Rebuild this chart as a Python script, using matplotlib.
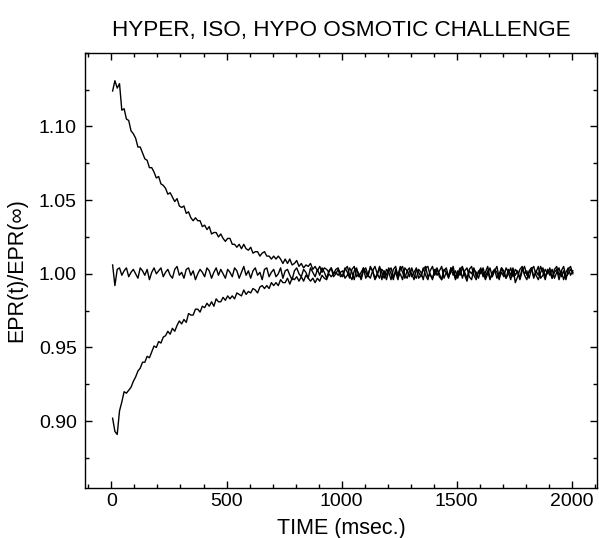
import numpy as np
import matplotlib
matplotlib.use("Agg")
import matplotlib.pyplot as plt
from matplotlib.ticker import MultipleLocator, FormatStrFormatter

# sampling grid (msec)
time_ms = np.arange(5, 2006, 10)

hyper = [
    1.124, 1.131, 1.126, 1.129, 1.111, 1.112, 1.105, 1.104, 1.097, 1.095,
    1.092, 1.086, 1.086, 1.082, 1.078, 1.077, 1.072, 1.072, 1.069, 1.065,
    1.066, 1.061, 1.060, 1.058, 1.054, 1.055, 1.052, 1.049, 1.051, 1.046,
    1.045, 1.046, 1.041, 1.042, 1.038, 1.036, 1.038, 1.036, 1.036, 1.032,
    1.033, 1.030, 1.032, 1.027, 1.028, 1.028, 1.025, 1.027, 1.024, 1.022,
    1.024, 1.024, 1.020, 1.020, 1.018, 1.020, 1.017, 1.020, 1.017, 1.016,
    1.018, 1.014, 1.015, 1.015, 1.012, 1.014, 1.015, 1.012, 1.012, 1.010,
    1.012, 1.010, 1.012, 1.010, 1.007, 1.010, 1.007, 1.010, 1.006, 1.007,
    1.009, 1.005, 1.007, 1.004, 1.006, 1.005, 1.007, 1.003, 1.005, 1.002,
    1.005, 1.001, 1.004, 1.003, 1.001, 1.004, 1.000, 1.003, 1.004, 1.000,
    0.998, 1.003, 1.005, 0.999, 0.996, 1.002, 1.004, 0.998, 1.001, 1.004,
    0.997, 1.000, 1.004, 1.002, 0.996, 0.999, 1.005, 1.001, 0.997, 1.003,
    1.001, 0.996, 1.003, 1.005, 0.998, 1.000, 0.996, 1.004, 1.002, 0.998,
    1.004, 0.999, 0.997, 1.003, 1.001, 0.996, 1.004, 1.005, 0.999, 0.997,
    1.002, 1.004, 0.998, 0.996, 1.003, 1.001, 0.997, 1.004, 0.999, 1.002,
    0.997, 1.003, 1.005, 0.999, 0.995, 1.002, 1.000, 1.004, 0.998, 1.001,
    1.004, 0.998, 1.001, 1.005, 0.997, 0.999, 1.003, 1.001, 0.996, 1.004,
    1.000, 0.997, 1.003, 0.999, 1.004, 0.994, 0.998, 1.003, 1.005, 0.999,
    0.996, 1.002, 1.004, 0.998, 1.001, 1.005, 0.997, 0.999, 1.003, 1.000,
    1.004, 0.997, 1.001, 1.003, 0.996, 1.002, 1.005, 0.998, 1.000, 1.003,
    1.001,
]

iso = [
    1.006, 0.992, 1.003, 1.004, 0.999, 1.002, 1.004, 0.998, 1.001, 1.003,
    1.000, 0.997, 1.004, 1.002, 0.999, 1.003, 0.996, 1.001, 1.004, 1.000,
    1.002, 1.004, 0.998, 1.001, 1.003, 0.999, 0.997, 1.003, 1.005, 0.999,
    1.001, 0.997, 1.003, 1.004, 0.999, 1.002, 0.996, 1.000, 1.003, 1.001,
    0.998, 1.004, 1.002, 0.997, 1.001, 1.004, 0.999, 1.003, 1.000, 0.997,
    1.003, 1.001, 0.998, 1.004, 1.002, 0.997, 1.001, 1.005, 0.999, 1.002,
    0.997, 1.002, 1.004, 0.999, 1.001, 0.996, 1.003, 1.004, 0.998, 1.001,
    1.003, 0.998, 1.000, 1.004, 0.997, 1.002, 1.003, 0.999, 0.996, 1.002,
    1.004, 1.000, 0.998, 1.003, 1.001, 0.997, 1.004, 1.001, 0.998, 1.003,
    0.999, 1.004, 1.001, 0.997, 1.002, 1.004, 0.998, 1.000, 1.003, 0.998,
    0.999, 1.004, 1.001, 0.997, 1.003, 1.005, 0.998, 1.000, 0.996, 1.002,
    1.004, 0.999, 0.997, 1.002, 1.005, 1.000, 0.997, 1.003, 1.001, 0.996,
    1.002, 1.004, 0.998, 1.001, 0.996, 1.003, 1.005, 0.999, 0.997, 1.002,
    1.000, 0.996, 1.003, 1.001, 0.998, 1.004, 0.999, 0.996, 1.002, 1.005,
    0.999, 1.003, 1.000, 0.996, 1.002, 1.004, 0.998, 1.001, 1.005, 0.997,
    1.002, 0.999, 1.004, 1.001, 0.997, 1.003, 1.005, 0.999, 0.996, 1.002,
    1.000, 1.004, 0.998, 1.002, 0.996, 1.001, 1.003, 0.997, 1.000, 1.004,
    1.002, 0.997, 1.000, 1.004, 0.998, 1.003, 1.001, 0.996, 1.002, 1.005,
    0.999, 1.001, 1.004, 0.997, 1.002, 0.999, 1.005, 1.001, 0.996, 1.003,
    1.001, 0.997, 1.003, 1.005, 0.999, 1.002, 0.996, 1.001, 1.004, 0.999,
    1.002,
]

hypo = [
    0.902, 0.893, 0.891, 0.907, 0.913, 0.920, 0.919, 0.921, 0.923, 0.927,
    0.930, 0.934, 0.936, 0.940, 0.940, 0.944, 0.943, 0.947, 0.951, 0.950,
    0.954, 0.953, 0.957, 0.958, 0.961, 0.959, 0.963, 0.961, 0.965, 0.968,
    0.966, 0.969, 0.967, 0.973, 0.972, 0.972, 0.976, 0.976, 0.974, 0.978,
    0.977, 0.980, 0.978, 0.981, 0.978, 0.983, 0.981, 0.981, 0.984, 0.982,
    0.985, 0.983, 0.985, 0.983, 0.987, 0.986, 0.985, 0.989, 0.986, 0.988,
    0.987, 0.990, 0.989, 0.987, 0.991, 0.992, 0.990, 0.992, 0.990, 0.994,
    0.992, 0.994, 0.992, 0.996, 0.994, 0.994, 0.997, 0.993, 0.997, 0.996,
    0.998, 0.995, 0.998, 0.995, 0.999, 0.997, 0.995, 0.997, 0.994, 0.997,
    0.995, 0.999, 0.997, 0.996, 1.000, 0.998, 1.000, 1.001, 0.999, 1.001,
    1.002, 0.997, 0.999, 1.004, 1.001, 0.996, 1.003, 1.000, 0.997, 1.004,
    1.001, 0.998, 1.005, 1.002, 0.997, 1.000, 1.004, 0.996, 1.002, 0.999,
    1.004, 1.000, 0.996, 1.003, 0.999, 1.005, 1.001, 0.997, 1.002, 1.004,
    0.998, 1.001, 1.004, 0.997, 0.999, 1.003, 1.005, 0.998, 1.000, 0.996,
    1.003, 0.999, 1.002, 1.005, 0.997, 1.001, 0.998, 1.004, 1.002, 0.996,
    1.000, 1.004, 0.997, 1.002, 1.004, 0.998, 0.996, 1.003, 1.001, 0.997,
    1.003, 1.001, 0.996, 1.000, 1.004, 0.998, 1.002, 1.005, 0.997, 1.001,
    0.998, 1.004, 1.001, 0.996, 1.003, 0.999, 1.002, 0.997, 1.004, 1.000,
    1.002, 0.997, 1.003, 1.005, 0.999, 0.996, 1.001, 1.004, 0.998, 1.002,
    0.999, 1.003, 0.997, 1.001, 1.004, 0.998, 1.002, 0.996, 1.003, 1.005,
    1.000,
]

title = "HYPER, ISO, HYPO OSMOTIC CHALLENGE"
xlabel = "TIME (msec.)"
ylabel = "EPR(t)/EPR(\u221e)"

plt.rcParams['font.family'] = ['Liberation Sans', 'DejaVu Sans']

fig = plt.figure(figsize=(5.99, 5.38), dpi=100)
ax = fig.add_axes([85/599, 1 - 487.5/538, (597 - 85)/599, (487.5 - 52.7)/538])

for series in (hyper, iso, hypo):
    ax.plot(time_ms, series, color='black', lw=1.0)

ax.set_xlim(-115, 2110)
ax.set_ylim(0.855, 1.15)
ax.xaxis.set_major_locator(MultipleLocator(500))
ax.xaxis.set_minor_locator(MultipleLocator(100))
ax.yaxis.set_major_locator(MultipleLocator(0.05))
ax.yaxis.set_minor_locator(MultipleLocator(0.025))
ax.yaxis.set_major_formatter(FormatStrFormatter('%.2f'))
ax.set_yticks([0.90, 0.95, 1.00, 1.05, 1.10])

ax.tick_params(which='both', direction='in', top=True, right=True,
               labelsize=14, width=1)
ax.tick_params(which='major', length=5)
ax.tick_params(which='minor', length=3)
ax.tick_params(axis='x', pad=4)
ax.tick_params(axis='y', pad=6)
for s in ax.spines.values():
    s.set_linewidth(1)

ax.set_xlabel(xlabel, fontsize=15.5, labelpad=6)
ax.set_ylabel(ylabel, fontsize=15.5, labelpad=8)
ax.set_title(title, fontsize=16.2, pad=12)

fig.savefig("out.png", dpi=100)
